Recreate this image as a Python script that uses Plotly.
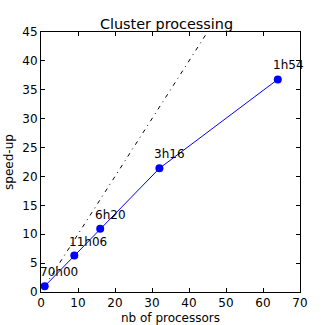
import plotly.graph_objects as go

processors = [1, 9, 16, 32, 64]
speedup = [1.0, 6.3, 10.95, 21.4, 36.8]
durations = ["70h00", "11h06", "6h20", "3h16", "1h54"]
ideal_x = [1, 64]
ideal_y = [1, 64]

fig = go.Figure()

# ideal linear speed-up
fig.add_trace(go.Scatter(
    x=ideal_x, y=ideal_y, mode='lines',
    line=dict(color='black', width=1, dash='4px,4.5px,1px,4.5px'),
    showlegend=False, hoverinfo='skip'
))

fig.add_trace(go.Scatter(
    x=processors, y=speedup, mode='lines+markers',
    line=dict(color='#0000ff', width=1),
    marker=dict(color='#0000ff', size=8),
    showlegend=False, cliponaxis=False
))

# run time labels, slightly left of and above each point
for x, y, t in zip(processors, speedup, durations):
    fig.add_annotation(x=x, y=y, text=t, showarrow=False,
                       xanchor='left', yanchor='bottom',
                       xshift=-7, yshift=5,
                       font=dict(size=12, color='black'))

axis_style = dict(
    showgrid=False, zeroline=False, ticks='inside', ticklen=4,
    tickcolor='black', showline=True, linecolor='black', linewidth=1,
    mirror='allticks', tickfont=dict(size=12, color='black'),
    automargin=False
)

fig.update_xaxes(range=[0, 70], dtick=10, title=dict(text='nb of processors', font=dict(size=12), standoff=4), **axis_style)
fig.update_yaxes(range=[0, 45], dtick=5, title=dict(text='speed-up', font=dict(size=12), standoff=6), **axis_style)

fig.update_layout(
    width=333, height=325,
    margin=dict(l=41, r=33, t=32, b=33),
    title=dict(text='Cluster processing', x=0.5, xanchor='center', y=0.912, yanchor='bottom',
               font=dict(size=14.4, color='black')),
    font=dict(family='DejaVu Sans', color='black'),
    plot_bgcolor='white', paper_bgcolor='white'
)

# drop the default page margin so the figure sits at the window corner
fig.write_html("out.html", config={'displayModeBar': False},
               post_script="document.body.style.margin='0';")
